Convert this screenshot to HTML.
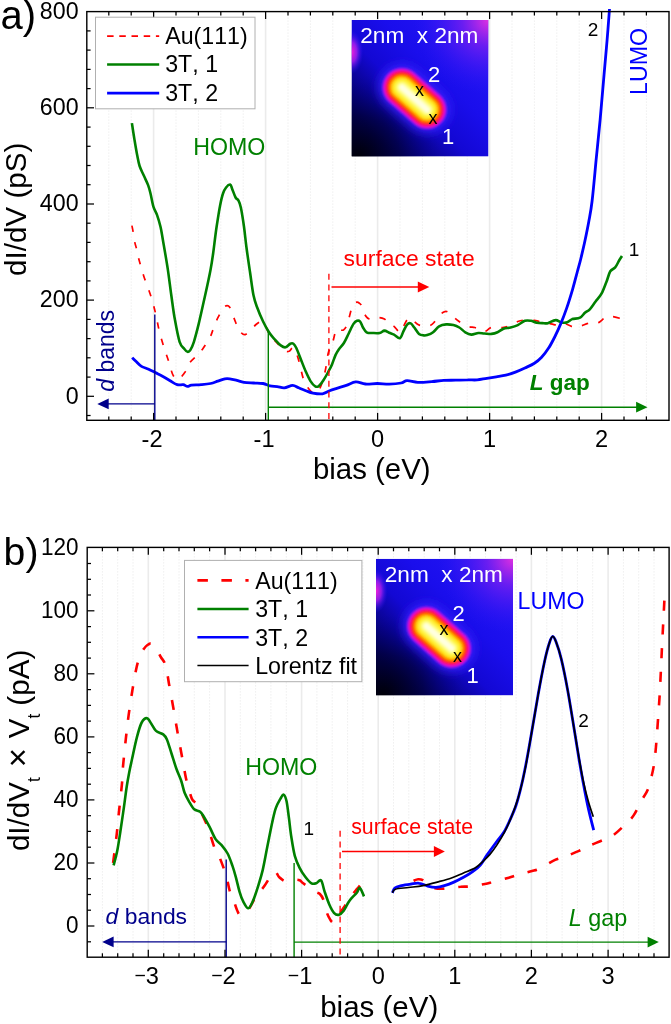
<!DOCTYPE html>
<html lang="en"><head><meta charset="utf-8"><title>dI/dV spectra</title>
<style>html,body{margin:0;padding:0;background:#fff}svg{display:block}</style></head>
<body>
<svg width="671" height="1024" viewBox="0 0 671 1024" font-family='"Liberation Sans", Arial, sans-serif' style="font-kerning:none">
<defs>
<clipPath id="insclip"><rect x="0" y="0" width="137" height="136.6"/></clipPath>
<filter id="blur15" filterUnits="userSpaceOnUse" x="-10" y="-10" width="160" height="160"><feGaussianBlur stdDeviation="1.3"/></filter>
<filter id="blur3" filterUnits="userSpaceOnUse" x="-20" y="-20" width="180" height="180"><feGaussianBlur stdDeviation="5"/></filter>
<linearGradient id="bgdiag" x1="0" y1="1" x2="1" y2="0">
<stop offset="0" stop-color="#000008"/><stop offset="0.15" stop-color="#030148"/><stop offset="0.3" stop-color="#0b0498"/><stop offset="0.43" stop-color="#1308d4"/><stop offset="0.62" stop-color="#1a0eec"/><stop offset="1" stop-color="#2818f8"/>
</linearGradient>
<radialGradient id="bgtr" cx="1" cy="0" r="0.55">
<stop offset="0" stop-color="#e030e0" stop-opacity="1"/><stop offset="0.35" stop-color="#8020f0" stop-opacity="0.75"/><stop offset="1" stop-color="#2a18f8" stop-opacity="0"/>
</radialGradient>
<radialGradient id="bgbl" cx="0.05" cy="1" r="0.6">
<stop offset="0" stop-color="#000008" stop-opacity="1"/><stop offset="0.5" stop-color="#000040" stop-opacity="0.6"/><stop offset="1" stop-color="#0000a0" stop-opacity="0"/>
</radialGradient>
<radialGradient id="bgleft" cx="0" cy="0.5" r="0.5" gradientTransform="translate(0 0.075) scale(0.17 0.32)">
<stop offset="0" stop-color="#f020d8" stop-opacity="1"/><stop offset="0.45" stop-color="#b020f0" stop-opacity="0.8"/><stop offset="1" stop-color="#2a18f8" stop-opacity="0"/>
</radialGradient>
</defs>
<rect width="671" height="1024" fill="#fff"/>
<line x1="108.8" y1="11.6" x2="108.8" y2="420.3" stroke="#e6e6e6" stroke-width="1" stroke-dasharray="1 2"/>
<line x1="131.2" y1="11.6" x2="131.2" y2="420.3" stroke="#e6e6e6" stroke-width="1" stroke-dasharray="1 2"/>
<line x1="153.6" y1="11.6" x2="153.6" y2="420.3" stroke="#ebebeb" stroke-width="1.6"/>
<line x1="176.0" y1="11.6" x2="176.0" y2="420.3" stroke="#e6e6e6" stroke-width="1" stroke-dasharray="1 2"/>
<line x1="198.4" y1="11.6" x2="198.4" y2="420.3" stroke="#e6e6e6" stroke-width="1" stroke-dasharray="1 2"/>
<line x1="220.8" y1="11.6" x2="220.8" y2="420.3" stroke="#e6e6e6" stroke-width="1" stroke-dasharray="1 2"/>
<line x1="243.2" y1="11.6" x2="243.2" y2="420.3" stroke="#e6e6e6" stroke-width="1" stroke-dasharray="1 2"/>
<line x1="265.6" y1="11.6" x2="265.6" y2="420.3" stroke="#ebebeb" stroke-width="1.6"/>
<line x1="288.0" y1="11.6" x2="288.0" y2="420.3" stroke="#e6e6e6" stroke-width="1" stroke-dasharray="1 2"/>
<line x1="310.4" y1="11.6" x2="310.4" y2="420.3" stroke="#e6e6e6" stroke-width="1" stroke-dasharray="1 2"/>
<line x1="332.8" y1="11.6" x2="332.8" y2="420.3" stroke="#e6e6e6" stroke-width="1" stroke-dasharray="1 2"/>
<line x1="355.2" y1="11.6" x2="355.2" y2="420.3" stroke="#e6e6e6" stroke-width="1" stroke-dasharray="1 2"/>
<line x1="377.6" y1="11.6" x2="377.6" y2="420.3" stroke="#ebebeb" stroke-width="1.6"/>
<line x1="400.0" y1="11.6" x2="400.0" y2="420.3" stroke="#e6e6e6" stroke-width="1" stroke-dasharray="1 2"/>
<line x1="422.4" y1="11.6" x2="422.4" y2="420.3" stroke="#e6e6e6" stroke-width="1" stroke-dasharray="1 2"/>
<line x1="444.8" y1="11.6" x2="444.8" y2="420.3" stroke="#e6e6e6" stroke-width="1" stroke-dasharray="1 2"/>
<line x1="467.2" y1="11.6" x2="467.2" y2="420.3" stroke="#e6e6e6" stroke-width="1" stroke-dasharray="1 2"/>
<line x1="489.6" y1="11.6" x2="489.6" y2="420.3" stroke="#ebebeb" stroke-width="1.6"/>
<line x1="512.0" y1="11.6" x2="512.0" y2="420.3" stroke="#e6e6e6" stroke-width="1" stroke-dasharray="1 2"/>
<line x1="534.4" y1="11.6" x2="534.4" y2="420.3" stroke="#e6e6e6" stroke-width="1" stroke-dasharray="1 2"/>
<line x1="556.8" y1="11.6" x2="556.8" y2="420.3" stroke="#e6e6e6" stroke-width="1" stroke-dasharray="1 2"/>
<line x1="579.2" y1="11.6" x2="579.2" y2="420.3" stroke="#e6e6e6" stroke-width="1" stroke-dasharray="1 2"/>
<line x1="601.6" y1="11.6" x2="601.6" y2="420.3" stroke="#ebebeb" stroke-width="1.6"/>
<line x1="624.0" y1="11.6" x2="624.0" y2="420.3" stroke="#e6e6e6" stroke-width="1" stroke-dasharray="1 2"/>
<line x1="646.4" y1="11.6" x2="646.4" y2="420.3" stroke="#e6e6e6" stroke-width="1" stroke-dasharray="1 2"/>
<path d="M131.9,225.6C132.1,226.6 132.6,228.8 133.1,231.6C133.6,234.4 134.2,239.3 134.8,242.3C135.4,245.3 136.1,246.8 136.7,249.5C137.3,252.2 137.4,253.9 138.6,258.3C139.8,262.8 141.7,269.8 143.8,276.2C145.9,282.6 149.0,290.1 151.0,296.5C153.0,302.9 154.4,308.6 155.8,314.4C157.2,320.2 157.9,325.5 159.3,331.1C160.7,336.7 162.5,342.6 164.1,347.8C165.7,353.0 167.5,357.7 168.9,362.1C170.3,366.5 171.3,371.2 172.5,374.0C173.7,376.8 174.8,378.1 176.0,378.8C177.2,379.6 178.7,379.4 180.0,378.5C181.3,377.6 182.7,375.2 184.0,373.5C185.3,371.8 186.9,369.9 188.0,368.0C189.1,366.1 188.5,364.4 190.3,362.0C192.1,359.6 196.5,356.1 198.7,353.7C200.9,351.3 201.6,350.6 203.5,347.8C205.4,345.0 208.6,339.8 210.1,337.0C211.6,334.2 211.5,333.7 212.5,331.1C213.5,328.5 215.0,324.1 216.1,321.5C217.2,318.9 217.9,317.7 219.0,315.6C220.1,313.5 221.4,310.6 222.5,309.0C223.6,307.4 224.4,306.3 225.6,306.0C226.8,305.7 228.2,305.0 229.7,307.2C231.2,309.4 233.1,315.9 234.4,319.1C235.7,322.3 236.2,324.1 237.3,326.3C238.4,328.5 239.7,331.1 241.0,332.5C242.3,333.9 243.5,335.0 245.2,334.6C246.9,334.2 249.3,331.6 251.1,329.9C252.9,328.2 254.4,325.9 256.0,324.5C257.6,323.1 259.3,321.8 260.7,321.5C262.1,321.2 262.8,320.3 264.3,322.7C265.9,325.1 268.2,332.8 270.0,335.8C271.8,338.8 272.4,338.2 274.8,340.6C277.2,343.0 281.9,348.3 284.3,350.1C286.7,351.9 287.7,351.7 289.1,351.3C290.5,350.9 291.5,347.6 292.7,347.8C293.9,348.0 295.0,349.7 296.2,352.5C297.4,355.3 298.6,360.0 299.8,364.4C301.0,368.8 301.8,374.6 303.4,378.8C305.0,383.0 307.3,387.1 309.3,389.5C311.3,391.9 313.5,393.4 315.3,393.1C317.1,392.9 318.6,390.5 320.0,388.0C321.4,385.5 322.5,381.5 323.5,378.0C324.5,374.5 325.2,371.1 326.0,366.8C326.8,362.6 327.3,356.5 328.4,352.5C329.5,348.5 331.3,346.6 332.5,343.0C333.7,339.4 334.7,333.5 335.6,331.1C336.5,328.7 337.2,328.9 338.0,328.7C338.8,328.5 339.4,329.7 340.3,329.9C341.2,330.1 342.5,330.6 343.5,330.0C344.5,329.4 345.4,328.1 346.3,326.3C347.2,324.5 347.7,322.5 348.7,319.1C349.7,315.7 351.3,308.6 352.3,306.0C353.3,303.4 353.8,303.8 354.6,303.2C355.4,302.6 356.2,302.2 357.0,302.2C357.8,302.2 358.6,302.6 359.4,303.2C360.2,303.8 361.0,304.3 361.8,306.0C362.6,307.7 363.2,311.2 364.2,313.2C365.1,315.2 366.3,317.0 367.5,318.0C368.7,319.0 369.7,319.2 371.3,319.1C372.9,319.0 375.1,317.5 377.3,317.5C379.5,317.5 382.4,318.0 384.4,319.1C386.4,320.2 387.6,322.7 389.2,323.9C390.8,325.1 392.2,324.9 394.0,326.3C395.8,327.7 398.3,332.3 399.9,332.3C401.5,332.3 402.3,328.4 403.5,326.3C404.7,324.2 405.9,321.3 407.1,319.9C408.3,318.5 409.5,317.7 410.7,318.0C411.9,318.3 413.0,320.4 414.3,321.5C415.6,322.6 417.1,324.1 418.5,324.8C419.9,325.5 420.8,325.6 422.6,325.8C424.4,326.0 427.6,326.4 429.5,325.8C431.4,325.2 432.6,324.0 434.0,322.5C435.4,321.0 436.3,318.6 437.9,316.8C439.5,315.1 442.2,312.8 443.8,312.0C445.4,311.2 445.9,311.0 447.5,311.8C449.1,312.6 451.6,315.3 453.4,316.8C455.2,318.3 455.7,319.2 458.1,320.8C460.5,322.4 464.9,325.2 467.7,326.3C470.5,327.4 472.8,326.9 474.8,327.5C476.9,328.1 478.2,329.2 480.0,329.8C481.8,330.4 483.7,331.5 485.6,331.1C487.5,330.7 488.7,328.1 491.5,327.5C494.3,326.9 499.5,327.7 502.3,327.5C505.1,327.3 505.6,327.3 508.2,326.3C510.8,325.3 515.0,322.5 517.8,321.5C520.6,320.5 522.1,320.5 524.9,320.3C527.7,320.1 532.0,320.1 534.4,320.3C536.8,320.5 536.4,320.9 539.2,321.5C542.0,322.1 548.1,323.3 551.1,323.9C554.1,324.5 555.5,325.1 557.1,325.1C558.8,325.2 559.6,324.4 561.0,324.2C562.4,324.0 563.7,323.5 565.4,323.9C567.1,324.2 569.6,325.9 571.4,326.3C573.2,326.8 574.4,326.7 576.0,326.6C577.6,326.5 579.0,326.4 581.0,325.9C583.0,325.4 585.8,323.8 587.8,323.4C589.8,322.9 591.2,323.3 593.0,323.2C594.8,323.1 596.7,323.5 598.6,322.6C600.5,321.8 602.7,319.1 604.4,318.1C606.1,317.1 607.4,316.8 609.0,316.6C610.6,316.4 612.2,316.5 614.2,316.8C616.2,317.1 619.9,318.4 621.0,318.7" fill="none" stroke="#ff0000" stroke-width="1.7" stroke-dasharray="6.5 10.2"/>
<path d="M131.9,123.1C132.3,125.7 133.4,133.2 134.3,138.6C135.2,144.0 136.3,150.7 137.2,155.3C138.1,159.9 138.5,162.6 139.6,166.0C140.7,169.4 142.4,172.4 143.8,175.6C145.2,178.8 147.0,182.1 148.1,185.1C149.2,188.1 149.6,189.9 150.5,193.5C151.4,197.1 152.3,203.0 153.4,206.6C154.5,210.2 155.8,211.5 157.0,214.9C158.2,218.3 159.5,222.6 160.5,226.8C161.5,231.0 161.7,233.0 162.9,240.0C164.1,247.0 166.3,259.4 167.7,268.6C169.1,277.8 170.1,286.9 171.3,295.3C172.5,303.7 173.4,311.4 174.8,319.1C176.2,326.9 178.0,336.8 179.6,341.8C181.2,346.8 183.1,347.3 184.4,349.0C185.7,350.7 186.5,351.6 187.5,351.8C188.5,352.0 189.2,351.8 190.3,350.1C191.4,348.4 192.5,346.2 193.9,341.8C195.3,337.4 196.9,331.2 198.7,323.9C200.5,316.5 202.6,306.6 204.6,297.7C206.6,288.8 209.0,277.9 210.4,270.5C211.8,263.1 212.2,260.3 213.2,253.0C214.2,245.7 215.4,234.7 216.6,226.8C217.8,218.9 219.0,211.0 220.1,205.4C221.2,199.8 222.0,196.5 223.0,193.5C224.0,190.5 224.9,189.0 226.1,187.5C227.3,186.0 229.2,184.4 230.2,184.6C231.2,184.8 231.2,186.5 232.1,188.7C233.0,190.8 234.5,195.5 235.6,197.5C236.7,199.5 237.6,198.9 238.5,200.6C239.4,202.3 240.0,203.4 240.9,207.8C241.8,212.2 243.1,220.3 244.0,226.8C244.9,233.3 245.4,239.5 246.4,247.0C247.4,254.5 248.8,263.9 250.0,272.0C251.2,280.1 252.3,289.4 253.5,295.3C254.7,301.2 255.5,302.8 257.1,307.2C258.7,311.6 261.1,317.3 263.1,321.5C265.1,325.7 267.1,329.3 269.0,332.3C270.9,335.3 272.9,337.2 274.8,339.4C276.8,341.6 278.9,344.1 280.7,345.4C282.5,346.7 283.9,347.6 285.5,347.3C287.1,347.0 289.0,344.3 290.3,343.7C291.6,343.1 292.4,343.0 293.4,343.7C294.4,344.4 294.9,345.1 296.2,347.8C297.5,350.5 299.4,355.7 301.0,359.7C302.6,363.7 304.2,368.0 305.8,371.6C307.4,375.2 308.9,378.6 310.5,381.1C312.1,383.6 313.9,385.6 315.3,386.4C316.7,387.2 317.5,387.0 318.9,385.9C320.3,384.8 322.0,382.4 323.6,380.0C325.2,377.6 327.0,374.2 328.4,371.6C329.8,369.0 330.8,367.2 332.0,364.4C333.2,361.6 334.4,357.5 335.6,354.9C336.8,352.3 337.7,351.0 339.1,349.0C340.5,347.0 342.3,345.6 343.9,343.0C345.5,340.4 347.1,336.7 348.7,333.5C350.3,330.3 352.1,326.0 353.5,323.9C354.9,321.8 355.9,321.2 357.0,320.8C358.1,320.4 359.1,320.4 360.1,321.5C361.1,322.6 361.9,325.7 363.0,327.5C364.1,329.3 365.0,331.4 366.6,332.3C368.2,333.2 370.3,332.9 372.5,333.0C374.7,333.1 377.7,333.4 379.7,333.0C381.7,332.6 382.8,330.7 384.4,330.6C386.0,330.6 387.6,332.0 389.2,332.7C390.8,333.4 392.2,333.7 394.0,334.6C395.8,335.5 398.3,338.8 399.9,338.2C401.5,337.6 402.3,333.4 403.5,331.1C404.7,328.8 405.9,325.9 407.1,324.6C408.3,323.3 409.5,322.9 410.7,323.4C411.9,323.9 412.9,325.8 414.3,327.5C415.7,329.2 417.4,332.6 419.0,333.9C420.6,335.2 422.4,335.2 423.8,335.4C425.2,335.6 425.6,335.6 427.2,335.1C428.8,334.6 431.1,333.8 433.1,332.3C435.1,330.8 436.9,327.6 439.1,326.3C441.3,325.0 443.8,324.6 446.2,324.4C448.6,324.2 451.2,324.6 453.4,325.1C455.6,325.6 457.3,326.3 459.3,327.5C461.3,328.7 463.3,331.1 465.3,332.3C467.3,333.5 469.1,334.5 471.3,334.6C473.5,334.7 476.2,333.2 478.4,333.0C480.6,332.8 482.2,333.4 484.4,333.5C486.6,333.6 489.3,334.1 491.5,333.9C493.7,333.7 495.5,333.2 497.5,332.3C499.5,331.4 501.3,329.5 503.5,328.7C505.7,327.9 508.2,328.1 510.6,327.5C513.0,326.9 515.4,326.2 517.8,325.1C520.2,324.0 522.7,321.5 524.9,320.8C527.1,320.1 528.9,320.5 530.9,320.8C532.9,321.1 534.6,322.3 536.8,322.7C539.0,323.1 542.2,323.1 544.0,323.2C545.8,323.3 545.9,323.7 547.8,323.2C549.7,322.7 553.3,320.2 555.6,320.1C557.9,320.0 559.5,322.0 561.5,322.4C563.5,322.8 565.5,322.8 567.3,322.2C569.1,321.6 570.1,319.9 572.2,319.1C574.3,318.4 577.9,318.8 580.0,317.7C582.1,316.6 583.3,314.2 584.9,312.8C586.5,311.4 588.0,311.2 589.8,309.3C591.6,307.4 593.6,304.1 595.6,301.5C597.6,298.9 599.7,296.9 601.5,293.7C603.3,290.4 604.9,285.7 606.4,282.0C607.9,278.3 608.8,273.7 610.3,271.3C611.8,268.9 613.7,269.2 615.2,267.4C616.7,265.6 618.0,262.4 619.1,260.5C620.2,258.6 621.5,256.8 622.0,256.0" fill="none" stroke="#008000" stroke-width="2.6" stroke-linejoin="round"/>
<path d="M132.2,357.6C132.9,358.4 135.1,360.6 136.7,362.1C138.2,363.6 139.5,365.2 141.5,366.4C143.5,367.6 146.2,368.1 148.6,369.2C151.0,370.3 153.4,371.6 155.8,372.8C158.2,374.0 160.5,375.1 162.9,376.4C165.3,377.7 167.7,379.3 170.1,380.7C172.5,382.1 175.0,384.0 177.2,384.7C179.4,385.4 181.5,384.4 183.2,384.7C184.9,385.0 186.1,386.3 187.5,386.4C188.9,386.5 189.2,385.5 191.5,385.2C193.8,384.9 197.9,385.0 201.1,384.7C204.3,384.4 207.8,384.1 210.6,383.5C213.4,382.9 215.4,381.9 217.8,381.1C220.2,380.3 222.9,379.2 224.9,378.8C226.9,378.4 227.7,378.5 229.7,378.8C231.7,379.1 234.4,379.8 236.8,380.4C239.2,381.0 241.2,381.9 244.0,382.3C246.8,382.7 250.3,382.8 253.5,383.0C256.7,383.2 260.4,383.0 263.1,383.5C265.9,384.0 267.6,385.4 270.0,385.9C272.4,386.4 274.8,386.3 277.2,386.6C279.6,386.9 281.7,388.0 284.3,387.8C286.9,387.6 290.3,385.4 292.7,385.4C295.1,385.4 296.4,386.9 298.6,387.8C300.8,388.7 303.4,389.8 305.8,390.7C308.2,391.6 310.1,392.6 312.9,393.1C315.7,393.6 319.7,394.2 322.5,393.8C325.3,393.4 327.2,391.6 329.6,390.7C332.0,389.8 334.0,389.2 336.8,388.3C339.6,387.4 343.1,386.5 346.3,385.4C349.5,384.3 352.6,382.1 355.8,381.9C359.0,381.7 361.8,383.7 365.4,384.0C369.0,384.3 373.3,383.5 377.3,383.5C381.3,383.5 385.2,384.3 389.2,384.2C393.2,384.1 398.1,383.6 401.1,383.0C404.1,382.4 404.3,380.8 407.1,380.7C409.9,380.6 413.7,382.1 417.8,382.3C421.9,382.5 427.6,381.9 431.9,381.6C436.2,381.3 439.8,380.6 443.8,380.4C447.8,380.2 451.8,380.3 455.8,380.2C459.8,380.1 464.1,379.9 467.7,379.9C471.3,379.8 474.0,380.2 477.2,379.9C480.4,379.6 483.6,378.8 486.8,378.3C490.0,377.8 493.1,377.3 496.3,376.8C499.5,376.3 502.6,376.0 505.8,375.2C509.0,374.4 512.2,373.3 515.4,372.1C518.6,370.9 521.7,369.5 524.9,368.0C528.1,366.5 531.6,365.1 534.4,363.3C537.2,361.5 539.2,359.9 541.6,357.3C544.0,354.7 546.6,351.2 548.8,347.8C551.0,344.4 552.7,341.0 554.7,337.0C556.7,333.0 558.7,328.7 560.7,323.9C562.7,319.1 564.6,314.2 566.6,308.4C568.6,302.6 570.8,295.4 572.6,289.3C574.4,283.2 576.0,276.7 577.4,271.5C578.8,266.3 579.8,263.1 581.0,258.0C582.2,252.9 583.6,247.1 584.9,241.0C586.2,234.9 587.6,228.2 588.8,221.5C590.0,214.8 590.9,211.2 592.1,201.0C593.3,190.8 594.8,173.7 596.1,160.2C597.4,146.7 598.8,134.4 600.1,120.1C601.4,105.8 602.9,87.4 604.1,74.1C605.3,60.7 606.2,50.9 607.1,40.0C608.0,29.1 609.1,14.2 609.5,9.0" fill="none" stroke="#0000ff" stroke-width="2.8" stroke-linejoin="round"/>
<line x1="154.8" y1="314.6" x2="154.8" y2="420.3" stroke="#00008b" stroke-width="1.4"/>
<line x1="154.8" y1="403.9" x2="107" y2="403.9" stroke="#00008b" stroke-width="1.4"/>
<polygon points="97.3,403.9 108.7,398.5 108.7,409.3" fill="#00008b"/>
<line x1="268.3" y1="332" x2="268.3" y2="420.3" stroke="#008000" stroke-width="1.4"/>
<line x1="268.3" y1="407.2" x2="638" y2="407.2" stroke="#008000" stroke-width="1.4"/>
<polygon points="647.5,407.2 636.1,401.8 636.1,412.6" fill="#008000"/>
<line x1="328.9" y1="273.8" x2="328.9" y2="420.3" stroke="#ff0000" stroke-width="1.3" stroke-dasharray="6 4.7"/>
<line x1="331.5" y1="287" x2="419" y2="287" stroke="#ff0000" stroke-width="1.4"/>
<polygon points="429.3,287 417.8,281.6 417.8,292.4" fill="#ff0000"/>
<line x1="108.8" y1="420.3" x2="108.8" y2="416.4" stroke="#000" stroke-width="1.25"/>
<line x1="108.8" y1="11.6" x2="108.8" y2="15.5" stroke="#000" stroke-width="1.25"/>
<line x1="131.2" y1="420.3" x2="131.2" y2="416.4" stroke="#000" stroke-width="1.25"/>
<line x1="131.2" y1="11.6" x2="131.2" y2="15.5" stroke="#000" stroke-width="1.25"/>
<line x1="153.6" y1="420.3" x2="153.6" y2="412.9" stroke="#000" stroke-width="1.25"/>
<line x1="153.6" y1="11.6" x2="153.6" y2="19.0" stroke="#000" stroke-width="1.25"/>
<line x1="176.0" y1="420.3" x2="176.0" y2="416.4" stroke="#000" stroke-width="1.25"/>
<line x1="176.0" y1="11.6" x2="176.0" y2="15.5" stroke="#000" stroke-width="1.25"/>
<line x1="198.4" y1="420.3" x2="198.4" y2="416.4" stroke="#000" stroke-width="1.25"/>
<line x1="198.4" y1="11.6" x2="198.4" y2="15.5" stroke="#000" stroke-width="1.25"/>
<line x1="220.8" y1="420.3" x2="220.8" y2="416.4" stroke="#000" stroke-width="1.25"/>
<line x1="220.8" y1="11.6" x2="220.8" y2="15.5" stroke="#000" stroke-width="1.25"/>
<line x1="243.2" y1="420.3" x2="243.2" y2="416.4" stroke="#000" stroke-width="1.25"/>
<line x1="243.2" y1="11.6" x2="243.2" y2="15.5" stroke="#000" stroke-width="1.25"/>
<line x1="265.6" y1="420.3" x2="265.6" y2="412.9" stroke="#000" stroke-width="1.25"/>
<line x1="265.6" y1="11.6" x2="265.6" y2="19.0" stroke="#000" stroke-width="1.25"/>
<line x1="288.0" y1="420.3" x2="288.0" y2="416.4" stroke="#000" stroke-width="1.25"/>
<line x1="288.0" y1="11.6" x2="288.0" y2="15.5" stroke="#000" stroke-width="1.25"/>
<line x1="310.4" y1="420.3" x2="310.4" y2="416.4" stroke="#000" stroke-width="1.25"/>
<line x1="310.4" y1="11.6" x2="310.4" y2="15.5" stroke="#000" stroke-width="1.25"/>
<line x1="332.8" y1="420.3" x2="332.8" y2="416.4" stroke="#000" stroke-width="1.25"/>
<line x1="332.8" y1="11.6" x2="332.8" y2="15.5" stroke="#000" stroke-width="1.25"/>
<line x1="355.2" y1="420.3" x2="355.2" y2="416.4" stroke="#000" stroke-width="1.25"/>
<line x1="355.2" y1="11.6" x2="355.2" y2="15.5" stroke="#000" stroke-width="1.25"/>
<line x1="377.6" y1="420.3" x2="377.6" y2="412.9" stroke="#000" stroke-width="1.25"/>
<line x1="377.6" y1="11.6" x2="377.6" y2="19.0" stroke="#000" stroke-width="1.25"/>
<line x1="400.0" y1="420.3" x2="400.0" y2="416.4" stroke="#000" stroke-width="1.25"/>
<line x1="400.0" y1="11.6" x2="400.0" y2="15.5" stroke="#000" stroke-width="1.25"/>
<line x1="422.4" y1="420.3" x2="422.4" y2="416.4" stroke="#000" stroke-width="1.25"/>
<line x1="422.4" y1="11.6" x2="422.4" y2="15.5" stroke="#000" stroke-width="1.25"/>
<line x1="444.8" y1="420.3" x2="444.8" y2="416.4" stroke="#000" stroke-width="1.25"/>
<line x1="444.8" y1="11.6" x2="444.8" y2="15.5" stroke="#000" stroke-width="1.25"/>
<line x1="467.2" y1="420.3" x2="467.2" y2="416.4" stroke="#000" stroke-width="1.25"/>
<line x1="467.2" y1="11.6" x2="467.2" y2="15.5" stroke="#000" stroke-width="1.25"/>
<line x1="489.6" y1="420.3" x2="489.6" y2="412.9" stroke="#000" stroke-width="1.25"/>
<line x1="489.6" y1="11.6" x2="489.6" y2="19.0" stroke="#000" stroke-width="1.25"/>
<line x1="512.0" y1="420.3" x2="512.0" y2="416.4" stroke="#000" stroke-width="1.25"/>
<line x1="512.0" y1="11.6" x2="512.0" y2="15.5" stroke="#000" stroke-width="1.25"/>
<line x1="534.4" y1="420.3" x2="534.4" y2="416.4" stroke="#000" stroke-width="1.25"/>
<line x1="534.4" y1="11.6" x2="534.4" y2="15.5" stroke="#000" stroke-width="1.25"/>
<line x1="556.8" y1="420.3" x2="556.8" y2="416.4" stroke="#000" stroke-width="1.25"/>
<line x1="556.8" y1="11.6" x2="556.8" y2="15.5" stroke="#000" stroke-width="1.25"/>
<line x1="579.2" y1="420.3" x2="579.2" y2="416.4" stroke="#000" stroke-width="1.25"/>
<line x1="579.2" y1="11.6" x2="579.2" y2="15.5" stroke="#000" stroke-width="1.25"/>
<line x1="601.6" y1="420.3" x2="601.6" y2="412.9" stroke="#000" stroke-width="1.25"/>
<line x1="601.6" y1="11.6" x2="601.6" y2="19.0" stroke="#000" stroke-width="1.25"/>
<line x1="624.0" y1="420.3" x2="624.0" y2="416.4" stroke="#000" stroke-width="1.25"/>
<line x1="624.0" y1="11.6" x2="624.0" y2="15.5" stroke="#000" stroke-width="1.25"/>
<line x1="646.4" y1="420.3" x2="646.4" y2="416.4" stroke="#000" stroke-width="1.25"/>
<line x1="646.4" y1="11.6" x2="646.4" y2="15.5" stroke="#000" stroke-width="1.25"/>
<line x1="86.8" y1="415.5" x2="90.6" y2="415.5" stroke="#000" stroke-width="1.25"/>
<line x1="86.8" y1="396.3" x2="94.0" y2="396.3" stroke="#000" stroke-width="1.25"/>
<line x1="86.8" y1="377.1" x2="90.6" y2="377.1" stroke="#000" stroke-width="1.25"/>
<line x1="86.8" y1="357.8" x2="90.6" y2="357.8" stroke="#000" stroke-width="1.25"/>
<line x1="86.8" y1="338.6" x2="90.6" y2="338.6" stroke="#000" stroke-width="1.25"/>
<line x1="86.8" y1="319.4" x2="90.6" y2="319.4" stroke="#000" stroke-width="1.25"/>
<line x1="86.8" y1="300.1" x2="94.0" y2="300.1" stroke="#000" stroke-width="1.25"/>
<line x1="86.8" y1="280.9" x2="90.6" y2="280.9" stroke="#000" stroke-width="1.25"/>
<line x1="86.8" y1="261.7" x2="90.6" y2="261.7" stroke="#000" stroke-width="1.25"/>
<line x1="86.8" y1="242.4" x2="90.6" y2="242.4" stroke="#000" stroke-width="1.25"/>
<line x1="86.8" y1="223.2" x2="90.6" y2="223.2" stroke="#000" stroke-width="1.25"/>
<line x1="86.8" y1="204.0" x2="94.0" y2="204.0" stroke="#000" stroke-width="1.25"/>
<line x1="86.8" y1="184.7" x2="90.6" y2="184.7" stroke="#000" stroke-width="1.25"/>
<line x1="86.8" y1="165.5" x2="90.6" y2="165.5" stroke="#000" stroke-width="1.25"/>
<line x1="86.8" y1="146.3" x2="90.6" y2="146.3" stroke="#000" stroke-width="1.25"/>
<line x1="86.8" y1="127.1" x2="90.6" y2="127.1" stroke="#000" stroke-width="1.25"/>
<line x1="86.8" y1="107.8" x2="94.0" y2="107.8" stroke="#000" stroke-width="1.25"/>
<line x1="86.8" y1="88.6" x2="90.6" y2="88.6" stroke="#000" stroke-width="1.25"/>
<line x1="86.8" y1="69.4" x2="90.6" y2="69.4" stroke="#000" stroke-width="1.25"/>
<line x1="86.8" y1="50.1" x2="90.6" y2="50.1" stroke="#000" stroke-width="1.25"/>
<line x1="86.8" y1="30.9" x2="90.6" y2="30.9" stroke="#000" stroke-width="1.25"/>
<rect x="86.8" y="11.6" width="582.2" height="408.7" fill="none" stroke="#000" stroke-width="1.4"/>
<rect x="95.5" y="17.2" width="159.5" height="91.6" fill="#fff" stroke="#b0b0b0" stroke-width="1"/>
<line x1="107.1" y1="36.1" x2="159.2" y2="36.1" stroke="#ff0000" stroke-width="1.7" stroke-dasharray="6.5 5.7"/>
<line x1="107.1" y1="64.5" x2="159.2" y2="64.5" stroke="#008000" stroke-width="2.6"/>
<line x1="107.1" y1="93.1" x2="159.2" y2="93.1" stroke="#0000ff" stroke-width="2.6"/>
<text x="165.2" y="44.2" font-size="23.2" fill="#000" text-anchor="start" >Au(111)</text>
<text x="165.2" y="72.4" font-size="23.2" fill="#000" text-anchor="start" >3T, 1</text>
<text x="165.2" y="100.6" font-size="23.2" fill="#000" text-anchor="start" >3T, 2</text>
<text transform="translate(78.6,18.9) scale(0.985,1)" font-size="23.6" fill="#000" text-anchor="end" >800</text>
<text transform="translate(78.6,115.0) scale(0.985,1)" font-size="23.6" fill="#000" text-anchor="end" >600</text>
<text transform="translate(78.6,211.2) scale(0.985,1)" font-size="23.6" fill="#000" text-anchor="end" >400</text>
<text transform="translate(78.6,307.3) scale(0.985,1)" font-size="23.6" fill="#000" text-anchor="end" >200</text>
<text transform="translate(78.6,403.5) scale(0.985,1)" font-size="23.6" fill="#000" text-anchor="end" >0</text>
<text x="152.1" y="447.3" font-size="23.6" fill="#000" text-anchor="middle" >-2</text>
<text x="264.1" y="447.3" font-size="23.6" fill="#000" text-anchor="middle" >-1</text>
<text x="377.6" y="447.3" font-size="23.6" fill="#000" text-anchor="middle" >0</text>
<text x="489.6" y="447.3" font-size="23.6" fill="#000" text-anchor="middle" >1</text>
<text x="601.6" y="447.3" font-size="23.6" fill="#000" text-anchor="middle" >2</text>
<text x="371.8" y="479.4" font-size="29.4" fill="#000" text-anchor="middle" >bias (eV)</text>
<text transform="translate(25.7,209.3) rotate(-90)" font-size="29.6" text-anchor="middle">dI/dV (pS)</text>
<text x="0.5" y="28.8" font-size="40" fill="#000" text-anchor="start" >a)</text>
<text x="193.2" y="154.6" font-size="23.2" fill="#008000" text-anchor="start" >HOMO</text>
<text x="343.6" y="265.5" font-size="22.9" fill="#ff0000" text-anchor="start" >surface state</text>
<text x="529.8" y="390.0" font-size="22.5" fill="#008000" font-weight="bold"><tspan font-style="italic">L</tspan> gap</text>
<text transform="translate(646.6,95) rotate(-90)" font-size="23.2" fill="#0000ff">LUMO</text>
<text transform="translate(113.6,391.8) rotate(-90)" font-size="23" fill="#00008b"><tspan font-style="italic">d</tspan> bands</text>
<text x="593.0" y="35.6" font-size="19" fill="#000" text-anchor="middle" >2</text>
<text x="634.0" y="256.0" font-size="19" fill="#000" text-anchor="middle" >1</text>
<g transform="translate(351.5,20.0)">
<g clip-path="url(#insclip)">
<rect x="0" y="0" width="137" height="136.6" fill="url(#bgdiag)"/>
<rect x="0" y="0" width="137" height="136.6" fill="url(#bgtr)"/>
<rect x="0" y="0" width="137" height="136.6" fill="url(#bgbl)"/>
<rect x="0" y="0" width="137" height="136.6" fill="url(#bgleft)"/>
<g filter="url(#blur3)">
<line x1="50.4" y1="67.4" x2="75.6" y2="89.6" stroke="#3820ff" stroke-width="48" stroke-linecap="round" opacity="0.8"/>
</g>
<g filter="url(#blur15)">
<line x1="50.4" y1="67.4" x2="75.6" y2="89.6" stroke="#8018f0" stroke-width="40" stroke-linecap="round"/>
<line x1="50.4" y1="67.4" x2="75.6" y2="89.6" stroke="#e010d0" stroke-width="37" stroke-linecap="round"/>
<line x1="50.4" y1="67.4" x2="75.6" y2="89.6" stroke="#ff1068" stroke-width="33.5" stroke-linecap="round"/>
<line x1="50.4" y1="67.4" x2="75.6" y2="89.6" stroke="#ff2000" stroke-width="30" stroke-linecap="round"/>
<line x1="50.4" y1="67.4" x2="75.6" y2="89.6" stroke="#ff7000" stroke-width="26.5" stroke-linecap="round"/>
<line x1="50.4" y1="67.4" x2="75.6" y2="89.6" stroke="#ffb400" stroke-width="23" stroke-linecap="round"/>
<line x1="50.4" y1="67.4" x2="75.6" y2="89.6" stroke="#ffe820" stroke-width="19.5" stroke-linecap="round"/>
<line x1="50.4" y1="67.4" x2="75.6" y2="89.6" stroke="#fff850" stroke-width="14.5" stroke-linecap="round"/>
<line x1="50.4" y1="67.4" x2="75.6" y2="89.6" stroke="#ffffa0" stroke-width="9.5" stroke-linecap="round"/>
<line x1="50.4" y1="67.4" x2="75.6" y2="89.6" stroke="#ffffe0" stroke-width="5" stroke-linecap="round"/>
</g>
</g>
<text x="8.8" y="23.2" font-size="22.6" fill="#fff" text-anchor="start" >2nm&#160; x 2nm</text>
<text x="82.6" y="61.9" font-size="22" fill="#fff" text-anchor="middle" >2</text>
<text x="96.5" y="124.0" font-size="22" fill="#fff" text-anchor="middle" >1</text>
<text x="68.0" y="76.0" font-size="18" fill="#000" text-anchor="middle" >x</text>
<text x="81.5" y="103.5" font-size="18" fill="#000" text-anchor="middle" >x</text>
</g>
<line x1="102.4" y1="547.4" x2="102.4" y2="957.2" stroke="#e6e6e6" stroke-width="1" stroke-dasharray="1 2"/>
<line x1="117.7" y1="547.4" x2="117.7" y2="957.2" stroke="#e6e6e6" stroke-width="1" stroke-dasharray="1 2"/>
<line x1="133.0" y1="547.4" x2="133.0" y2="957.2" stroke="#e6e6e6" stroke-width="1" stroke-dasharray="1 2"/>
<line x1="148.3" y1="547.4" x2="148.3" y2="957.2" stroke="#ebebeb" stroke-width="1.6"/>
<line x1="163.7" y1="547.4" x2="163.7" y2="957.2" stroke="#e6e6e6" stroke-width="1" stroke-dasharray="1 2"/>
<line x1="179.0" y1="547.4" x2="179.0" y2="957.2" stroke="#e6e6e6" stroke-width="1" stroke-dasharray="1 2"/>
<line x1="194.3" y1="547.4" x2="194.3" y2="957.2" stroke="#e6e6e6" stroke-width="1" stroke-dasharray="1 2"/>
<line x1="209.6" y1="547.4" x2="209.6" y2="957.2" stroke="#e6e6e6" stroke-width="1" stroke-dasharray="1 2"/>
<line x1="225.0" y1="547.4" x2="225.0" y2="957.2" stroke="#ebebeb" stroke-width="1.6"/>
<line x1="240.3" y1="547.4" x2="240.3" y2="957.2" stroke="#e6e6e6" stroke-width="1" stroke-dasharray="1 2"/>
<line x1="255.6" y1="547.4" x2="255.6" y2="957.2" stroke="#e6e6e6" stroke-width="1" stroke-dasharray="1 2"/>
<line x1="270.9" y1="547.4" x2="270.9" y2="957.2" stroke="#e6e6e6" stroke-width="1" stroke-dasharray="1 2"/>
<line x1="286.3" y1="547.4" x2="286.3" y2="957.2" stroke="#e6e6e6" stroke-width="1" stroke-dasharray="1 2"/>
<line x1="301.6" y1="547.4" x2="301.6" y2="957.2" stroke="#ebebeb" stroke-width="1.6"/>
<line x1="316.9" y1="547.4" x2="316.9" y2="957.2" stroke="#e6e6e6" stroke-width="1" stroke-dasharray="1 2"/>
<line x1="332.2" y1="547.4" x2="332.2" y2="957.2" stroke="#e6e6e6" stroke-width="1" stroke-dasharray="1 2"/>
<line x1="347.6" y1="547.4" x2="347.6" y2="957.2" stroke="#e6e6e6" stroke-width="1" stroke-dasharray="1 2"/>
<line x1="362.9" y1="547.4" x2="362.9" y2="957.2" stroke="#e6e6e6" stroke-width="1" stroke-dasharray="1 2"/>
<line x1="378.2" y1="547.4" x2="378.2" y2="957.2" stroke="#ebebeb" stroke-width="1.6"/>
<line x1="393.5" y1="547.4" x2="393.5" y2="957.2" stroke="#e6e6e6" stroke-width="1" stroke-dasharray="1 2"/>
<line x1="408.8" y1="547.4" x2="408.8" y2="957.2" stroke="#e6e6e6" stroke-width="1" stroke-dasharray="1 2"/>
<line x1="424.2" y1="547.4" x2="424.2" y2="957.2" stroke="#e6e6e6" stroke-width="1" stroke-dasharray="1 2"/>
<line x1="439.5" y1="547.4" x2="439.5" y2="957.2" stroke="#e6e6e6" stroke-width="1" stroke-dasharray="1 2"/>
<line x1="454.8" y1="547.4" x2="454.8" y2="957.2" stroke="#ebebeb" stroke-width="1.6"/>
<line x1="470.1" y1="547.4" x2="470.1" y2="957.2" stroke="#e6e6e6" stroke-width="1" stroke-dasharray="1 2"/>
<line x1="485.5" y1="547.4" x2="485.5" y2="957.2" stroke="#e6e6e6" stroke-width="1" stroke-dasharray="1 2"/>
<line x1="500.8" y1="547.4" x2="500.8" y2="957.2" stroke="#e6e6e6" stroke-width="1" stroke-dasharray="1 2"/>
<line x1="516.1" y1="547.4" x2="516.1" y2="957.2" stroke="#e6e6e6" stroke-width="1" stroke-dasharray="1 2"/>
<line x1="531.4" y1="547.4" x2="531.4" y2="957.2" stroke="#ebebeb" stroke-width="1.6"/>
<line x1="546.8" y1="547.4" x2="546.8" y2="957.2" stroke="#e6e6e6" stroke-width="1" stroke-dasharray="1 2"/>
<line x1="562.1" y1="547.4" x2="562.1" y2="957.2" stroke="#e6e6e6" stroke-width="1" stroke-dasharray="1 2"/>
<line x1="577.4" y1="547.4" x2="577.4" y2="957.2" stroke="#e6e6e6" stroke-width="1" stroke-dasharray="1 2"/>
<line x1="592.7" y1="547.4" x2="592.7" y2="957.2" stroke="#e6e6e6" stroke-width="1" stroke-dasharray="1 2"/>
<line x1="608.1" y1="547.4" x2="608.1" y2="957.2" stroke="#ebebeb" stroke-width="1.6"/>
<line x1="623.4" y1="547.4" x2="623.4" y2="957.2" stroke="#e6e6e6" stroke-width="1" stroke-dasharray="1 2"/>
<line x1="638.7" y1="547.4" x2="638.7" y2="957.2" stroke="#e6e6e6" stroke-width="1" stroke-dasharray="1 2"/>
<line x1="654.0" y1="547.4" x2="654.0" y2="957.2" stroke="#e6e6e6" stroke-width="1" stroke-dasharray="1 2"/>
<path d="M113.1,863.0C113.7,858.2 115.7,843.1 116.7,834.4C117.7,825.6 118.2,818.9 119.1,810.5C120.0,802.1 121.2,791.8 121.9,784.3C122.6,776.8 122.4,772.9 123.1,765.4C123.8,757.9 124.9,747.5 125.8,739.2C126.7,730.9 127.5,723.4 128.6,715.4C129.7,707.4 130.9,699.5 132.2,691.5C133.5,683.5 135.2,673.6 136.5,667.7C137.8,661.8 138.7,659.2 140.0,656.0C141.3,652.8 142.8,650.4 144.1,648.6C145.3,646.8 146.3,645.8 147.5,645.0C148.7,644.2 149.9,643.2 151.3,643.8C152.7,644.4 154.4,646.3 156.0,648.5C157.6,650.7 159.2,654.2 160.8,657.0C162.4,659.8 164.2,660.7 165.6,665.3C167.0,669.9 167.8,677.2 169.1,684.4C170.4,691.5 172.0,700.2 173.4,708.2C174.8,716.2 176.0,723.8 177.5,732.1C179.0,740.5 180.9,750.8 182.3,758.3C183.7,765.8 184.9,773.2 185.8,777.4C186.7,781.6 186.5,780.0 187.5,783.5C188.5,787.0 190.1,794.9 191.8,798.6C193.5,802.3 195.2,801.2 197.8,805.8C200.4,810.4 204.5,819.0 207.3,826.0C210.1,833.0 212.6,842.9 214.4,847.5C216.2,852.1 216.4,849.9 218.0,853.5C219.6,857.1 222.6,865.2 224.0,869.0C225.4,872.8 225.4,872.3 226.4,876.1C227.4,879.9 228.7,887.6 229.9,891.6C231.1,895.6 232.3,896.8 233.5,899.9C234.7,903.0 235.8,907.4 237.0,910.0C238.2,912.6 238.9,915.3 240.7,915.4C242.5,915.5 245.1,914.1 247.8,910.7C250.5,907.3 254.0,899.2 256.7,895.2C259.4,891.2 261.2,890.4 263.8,886.8C266.4,883.2 270.2,876.2 272.2,873.7C274.2,871.2 274.6,871.4 275.8,872.0C277.0,872.6 277.6,875.7 279.3,877.3C281.0,878.9 283.6,881.1 286.0,881.5C288.4,881.9 291.3,879.9 293.6,879.7C295.9,879.5 298.0,879.6 299.6,880.2C301.2,880.8 300.6,881.4 303.2,883.3C305.8,885.2 312.3,889.8 315.1,891.6C317.9,893.4 318.5,892.6 319.9,894.0C321.3,895.4 322.3,896.8 323.5,900.0C324.7,903.2 325.8,909.7 327.0,913.1C328.2,916.5 329.6,918.6 330.6,920.2C331.6,921.8 332.1,922.4 333.0,922.6C333.9,922.8 334.8,923.1 336.0,921.5C337.2,919.9 338.6,915.7 340.1,913.1C341.6,910.5 343.1,908.7 344.9,905.9C346.7,903.1 349.0,899.3 351.0,896.5C353.0,893.7 355.3,891.0 356.8,889.2C358.3,887.4 359.4,886.2 359.9,885.6" fill="none" stroke="#ff0000" stroke-width="2.6" stroke-dasharray="10 14"/>
<path d="M664.4,600.0C664.0,608.5 662.5,636.1 661.8,651.0C661.1,665.9 660.5,679.0 660.0,689.2C659.5,699.4 659.0,704.4 658.5,712.0C658.0,719.6 657.4,728.4 656.9,735.0C656.4,741.6 656.0,747.1 655.5,751.9C655.0,756.7 654.7,759.8 654.1,763.8C653.5,767.8 652.8,771.4 651.7,775.8C650.6,780.2 649.2,786.1 647.6,790.1C646.0,794.1 644.4,795.4 642.1,799.6C639.8,803.8 636.4,811.1 633.8,815.1C631.1,819.1 629.7,820.1 626.2,823.5C622.8,826.9 617.0,832.6 613.1,835.4C609.2,838.2 606.9,838.3 602.8,840.1C598.7,841.9 592.5,844.3 588.5,846.1C584.5,847.9 583.0,849.1 579.0,850.9C575.0,852.7 568.6,855.3 564.6,856.8C560.6,858.3 559.1,858.0 555.1,859.9C551.1,861.8 544.6,866.1 540.8,868.0C536.9,869.9 535.8,870.0 532.0,871.1C528.2,872.2 521.7,873.8 517.8,874.9C513.9,876.0 512.8,876.7 508.8,877.8C504.8,878.9 498.0,880.6 494.0,881.6C490.0,882.6 488.9,883.2 484.9,884.0C480.9,884.8 474.2,885.9 470.1,886.4C466.1,886.9 464.7,886.4 460.6,886.8C456.5,887.1 449.7,888.2 445.6,888.5C441.5,888.8 438.8,889.1 436.0,888.5C433.2,887.9 431.2,886.4 429.0,885.0C426.8,883.6 424.7,881.2 422.9,880.2C421.1,879.2 419.7,879.1 418.1,879.2C416.5,879.3 414.2,880.6 413.4,880.9" fill="none" stroke="#ff0000" stroke-width="2.6" stroke-dasharray="10.1 13.6" stroke-dashoffset="-0.7"/>
<path d="M113.6,865.4C114.2,863.0 116.1,856.7 117.2,851.1C118.3,845.5 119.2,839.2 120.3,832.0C121.4,824.8 122.7,815.6 123.8,808.1C124.9,800.6 125.8,792.6 126.7,786.7C127.6,780.9 128.2,777.7 129.1,773.0C130.0,768.3 130.9,764.3 132.2,758.3C133.5,752.3 135.4,742.8 137.0,736.8C138.6,730.8 140.0,725.6 141.7,722.5C143.4,719.4 145.4,718.0 147.0,718.2C148.6,718.4 149.8,721.6 151.3,723.7C152.8,725.8 154.0,729.1 156.0,730.9C158.0,732.7 161.4,733.0 163.2,734.4C165.0,735.8 165.4,736.0 166.8,739.2C168.2,742.4 169.9,748.6 171.5,753.5C173.1,758.4 174.7,764.0 176.3,768.5C177.9,773.0 179.7,776.5 181.1,780.5C182.5,784.5 183.2,789.1 184.6,792.7C186.0,796.3 187.8,799.4 189.4,802.2C191.0,805.0 192.4,807.7 194.2,809.3C196.0,810.9 198.5,810.5 200.1,811.7C201.7,812.9 202.1,813.9 203.7,816.5C205.3,819.1 207.7,823.4 209.7,827.2C211.7,831.0 213.6,836.1 215.6,839.1C217.6,842.1 219.6,842.7 221.6,845.1C223.6,847.5 225.8,850.1 227.6,853.5C229.4,856.9 230.9,861.4 232.3,865.4C233.7,869.4 234.7,872.9 235.9,877.3C237.1,881.7 238.3,887.5 239.5,891.6C240.7,895.7 241.8,898.9 243.3,901.7C244.8,904.5 246.7,908.5 248.3,908.3C249.9,908.1 251.5,904.2 253.1,900.6C254.7,897.0 256.3,891.9 257.9,886.8C259.5,881.7 261.1,876.9 262.7,870.1C264.3,863.4 265.8,854.2 267.4,846.3C269.0,838.4 270.8,828.9 272.2,822.5C273.6,816.1 274.4,812.1 275.8,808.1C277.2,804.1 279.2,800.9 280.5,798.6C281.8,796.4 282.6,794.2 283.6,794.6C284.6,795.0 285.6,797.1 286.5,801.0C287.4,804.9 288.1,811.7 288.9,817.7C289.7,823.7 290.3,830.4 291.3,836.8C292.3,843.1 293.4,850.6 294.8,855.8C296.2,861.0 297.8,864.2 299.6,867.8C301.4,871.4 303.6,874.7 305.6,877.3C307.6,879.9 309.7,882.3 311.5,883.3C313.3,884.3 314.7,883.8 316.3,883.3C317.9,882.8 319.7,879.0 321.1,880.4C322.5,881.8 323.2,887.5 324.6,891.6C326.0,895.7 327.8,901.1 329.4,904.7C331.0,908.3 332.6,911.4 334.2,913.1C335.8,914.8 337.4,915.1 339.0,914.7C340.6,914.3 342.1,912.8 343.7,910.7C345.3,908.6 347.1,904.5 348.5,902.3C349.9,900.1 350.7,899.2 352.1,897.6C353.5,896.0 355.5,894.4 356.8,892.8C358.1,891.2 358.7,887.4 359.9,888.0C361.1,888.6 363.3,895.0 364.0,896.4" fill="none" stroke="#008000" stroke-width="2.6" stroke-linejoin="round"/>
<path d="M392.4,892.8C392.8,892.0 393.3,889.2 394.8,888.0C396.3,886.8 398.8,886.3 401.5,885.6C404.2,884.9 408.0,884.4 411.0,884.0C414.0,883.6 416.5,882.9 419.3,883.3C422.1,883.6 424.9,885.4 427.7,886.1C430.5,886.8 433.2,887.4 436.0,887.3C438.8,887.2 441.4,886.5 444.4,885.6C447.4,884.7 450.7,883.5 453.9,882.1C457.1,880.7 460.3,879.1 463.5,877.3C466.7,875.5 470.2,873.3 473.0,871.3C475.8,869.3 477.7,868.2 480.1,865.4C482.5,862.6 484.5,858.6 487.3,854.6C490.1,850.6 494.0,845.3 496.8,841.5C499.6,837.7 501.8,835.6 504.0,832.0C506.2,828.4 507.9,824.5 509.9,820.1C511.9,815.7 514.1,811.1 515.9,805.8C517.7,800.5 519.2,794.4 520.7,788.5C522.2,782.6 523.1,778.8 524.7,770.5C526.4,762.2 528.4,751.2 530.6,738.5C532.9,725.8 535.9,707.2 538.2,694.3C540.5,681.4 542.7,669.9 544.6,661.2C546.5,652.5 548.3,646.1 549.7,642.0C551.1,637.9 551.7,636.4 552.8,636.4C553.9,636.4 554.7,638.3 556.1,642.0C557.5,645.7 559.3,650.7 561.2,658.6C563.1,666.5 565.4,677.7 567.5,689.2C569.6,700.7 572.0,715.8 573.9,727.4C575.8,739.0 577.4,749.4 579.0,759.0C580.6,768.6 582.1,776.9 583.7,785.3C585.3,793.6 586.8,801.6 588.5,809.1C590.2,816.6 592.8,826.6 593.7,830.1" fill="none" stroke="#0000ff" stroke-width="2.8" stroke-linejoin="round"/>
<path d="M392.4,892.8C392.9,892.2 392.8,890.1 395.5,889.2C398.2,888.3 404.0,888.1 408.6,887.5C413.2,886.9 418.1,886.5 422.9,885.6C427.7,884.7 432.4,883.4 437.2,882.1C442.0,880.8 447.1,879.5 451.5,878.0C455.9,876.5 459.5,874.7 463.5,873.0C467.5,871.3 472.2,869.7 475.4,867.8C478.6,865.9 480.1,864.0 482.5,861.8C484.9,859.6 487.3,857.4 489.7,854.6C492.1,851.8 494.4,848.7 496.8,845.1C499.2,841.5 501.6,837.8 504.0,833.2C506.4,828.6 508.7,823.7 511.1,817.7C513.5,811.7 516.0,805.1 518.3,797.4C520.6,789.6 522.7,781.0 524.7,771.2C526.8,761.4 528.4,751.3 530.6,738.5C532.9,725.7 535.9,707.2 538.2,694.3C540.5,681.4 542.7,669.9 544.6,661.2C546.5,652.5 548.3,646.1 549.7,642.0C551.1,637.9 551.7,636.4 552.8,636.4C553.9,636.4 554.7,638.3 556.1,642.0C557.5,645.7 559.3,650.7 561.2,658.6C563.1,666.5 565.4,677.7 567.5,689.2C569.6,700.7 572.0,715.9 573.9,727.4C575.8,738.9 577.4,748.7 579.0,758.0C580.6,767.3 582.1,775.7 583.7,783.0C585.3,790.3 586.9,796.4 588.5,802.0C590.1,807.6 592.5,814.3 593.3,816.8" fill="none" stroke="#000" stroke-width="1.7" stroke-linejoin="round"/>
<line x1="226.2" y1="859.4" x2="226.2" y2="957.2" stroke="#00008b" stroke-width="1.4"/>
<line x1="226.2" y1="941.9" x2="112" y2="941.9" stroke="#00008b" stroke-width="1.4"/>
<polygon points="102.2,941.9 113.6,936.5 113.6,947.3" fill="#00008b"/>
<line x1="294.1" y1="863" x2="294.1" y2="957.2" stroke="#008000" stroke-width="1.4"/>
<line x1="294.1" y1="942.1" x2="650" y2="942.1" stroke="#008000" stroke-width="1.4"/>
<polygon points="658.8,942.1 647.6,936.7 647.6,947.5" fill="#008000"/>
<line x1="340.1" y1="830.8" x2="340.1" y2="957.2" stroke="#ff0000" stroke-width="1.3" stroke-dasharray="6 4.7"/>
<line x1="342" y1="851.5" x2="436" y2="851.5" stroke="#ff0000" stroke-width="1.4"/>
<polygon points="444.9,851.5 433.9,846.1 433.9,856.9" fill="#ff0000"/>
<line x1="102.4" y1="957.2" x2="102.4" y2="953.3" stroke="#000" stroke-width="1.25"/>
<line x1="102.4" y1="547.4" x2="102.4" y2="551.3" stroke="#000" stroke-width="1.25"/>
<line x1="117.7" y1="957.2" x2="117.7" y2="953.3" stroke="#000" stroke-width="1.25"/>
<line x1="117.7" y1="547.4" x2="117.7" y2="551.3" stroke="#000" stroke-width="1.25"/>
<line x1="133.0" y1="957.2" x2="133.0" y2="953.3" stroke="#000" stroke-width="1.25"/>
<line x1="133.0" y1="547.4" x2="133.0" y2="551.3" stroke="#000" stroke-width="1.25"/>
<line x1="148.3" y1="957.2" x2="148.3" y2="949.8" stroke="#000" stroke-width="1.25"/>
<line x1="148.3" y1="547.4" x2="148.3" y2="554.8" stroke="#000" stroke-width="1.25"/>
<line x1="163.7" y1="957.2" x2="163.7" y2="953.3" stroke="#000" stroke-width="1.25"/>
<line x1="163.7" y1="547.4" x2="163.7" y2="551.3" stroke="#000" stroke-width="1.25"/>
<line x1="179.0" y1="957.2" x2="179.0" y2="953.3" stroke="#000" stroke-width="1.25"/>
<line x1="179.0" y1="547.4" x2="179.0" y2="551.3" stroke="#000" stroke-width="1.25"/>
<line x1="194.3" y1="957.2" x2="194.3" y2="953.3" stroke="#000" stroke-width="1.25"/>
<line x1="194.3" y1="547.4" x2="194.3" y2="551.3" stroke="#000" stroke-width="1.25"/>
<line x1="209.6" y1="957.2" x2="209.6" y2="953.3" stroke="#000" stroke-width="1.25"/>
<line x1="209.6" y1="547.4" x2="209.6" y2="551.3" stroke="#000" stroke-width="1.25"/>
<line x1="225.0" y1="957.2" x2="225.0" y2="949.8" stroke="#000" stroke-width="1.25"/>
<line x1="225.0" y1="547.4" x2="225.0" y2="554.8" stroke="#000" stroke-width="1.25"/>
<line x1="240.3" y1="957.2" x2="240.3" y2="953.3" stroke="#000" stroke-width="1.25"/>
<line x1="240.3" y1="547.4" x2="240.3" y2="551.3" stroke="#000" stroke-width="1.25"/>
<line x1="255.6" y1="957.2" x2="255.6" y2="953.3" stroke="#000" stroke-width="1.25"/>
<line x1="255.6" y1="547.4" x2="255.6" y2="551.3" stroke="#000" stroke-width="1.25"/>
<line x1="270.9" y1="957.2" x2="270.9" y2="953.3" stroke="#000" stroke-width="1.25"/>
<line x1="270.9" y1="547.4" x2="270.9" y2="551.3" stroke="#000" stroke-width="1.25"/>
<line x1="286.3" y1="957.2" x2="286.3" y2="953.3" stroke="#000" stroke-width="1.25"/>
<line x1="286.3" y1="547.4" x2="286.3" y2="551.3" stroke="#000" stroke-width="1.25"/>
<line x1="301.6" y1="957.2" x2="301.6" y2="949.8" stroke="#000" stroke-width="1.25"/>
<line x1="301.6" y1="547.4" x2="301.6" y2="554.8" stroke="#000" stroke-width="1.25"/>
<line x1="316.9" y1="957.2" x2="316.9" y2="953.3" stroke="#000" stroke-width="1.25"/>
<line x1="316.9" y1="547.4" x2="316.9" y2="551.3" stroke="#000" stroke-width="1.25"/>
<line x1="332.2" y1="957.2" x2="332.2" y2="953.3" stroke="#000" stroke-width="1.25"/>
<line x1="332.2" y1="547.4" x2="332.2" y2="551.3" stroke="#000" stroke-width="1.25"/>
<line x1="347.6" y1="957.2" x2="347.6" y2="953.3" stroke="#000" stroke-width="1.25"/>
<line x1="347.6" y1="547.4" x2="347.6" y2="551.3" stroke="#000" stroke-width="1.25"/>
<line x1="362.9" y1="957.2" x2="362.9" y2="953.3" stroke="#000" stroke-width="1.25"/>
<line x1="362.9" y1="547.4" x2="362.9" y2="551.3" stroke="#000" stroke-width="1.25"/>
<line x1="378.2" y1="957.2" x2="378.2" y2="949.8" stroke="#000" stroke-width="1.25"/>
<line x1="378.2" y1="547.4" x2="378.2" y2="554.8" stroke="#000" stroke-width="1.25"/>
<line x1="393.5" y1="957.2" x2="393.5" y2="953.3" stroke="#000" stroke-width="1.25"/>
<line x1="393.5" y1="547.4" x2="393.5" y2="551.3" stroke="#000" stroke-width="1.25"/>
<line x1="408.8" y1="957.2" x2="408.8" y2="953.3" stroke="#000" stroke-width="1.25"/>
<line x1="408.8" y1="547.4" x2="408.8" y2="551.3" stroke="#000" stroke-width="1.25"/>
<line x1="424.2" y1="957.2" x2="424.2" y2="953.3" stroke="#000" stroke-width="1.25"/>
<line x1="424.2" y1="547.4" x2="424.2" y2="551.3" stroke="#000" stroke-width="1.25"/>
<line x1="439.5" y1="957.2" x2="439.5" y2="953.3" stroke="#000" stroke-width="1.25"/>
<line x1="439.5" y1="547.4" x2="439.5" y2="551.3" stroke="#000" stroke-width="1.25"/>
<line x1="454.8" y1="957.2" x2="454.8" y2="949.8" stroke="#000" stroke-width="1.25"/>
<line x1="454.8" y1="547.4" x2="454.8" y2="554.8" stroke="#000" stroke-width="1.25"/>
<line x1="470.1" y1="957.2" x2="470.1" y2="953.3" stroke="#000" stroke-width="1.25"/>
<line x1="470.1" y1="547.4" x2="470.1" y2="551.3" stroke="#000" stroke-width="1.25"/>
<line x1="485.5" y1="957.2" x2="485.5" y2="953.3" stroke="#000" stroke-width="1.25"/>
<line x1="485.5" y1="547.4" x2="485.5" y2="551.3" stroke="#000" stroke-width="1.25"/>
<line x1="500.8" y1="957.2" x2="500.8" y2="953.3" stroke="#000" stroke-width="1.25"/>
<line x1="500.8" y1="547.4" x2="500.8" y2="551.3" stroke="#000" stroke-width="1.25"/>
<line x1="516.1" y1="957.2" x2="516.1" y2="953.3" stroke="#000" stroke-width="1.25"/>
<line x1="516.1" y1="547.4" x2="516.1" y2="551.3" stroke="#000" stroke-width="1.25"/>
<line x1="531.4" y1="957.2" x2="531.4" y2="949.8" stroke="#000" stroke-width="1.25"/>
<line x1="531.4" y1="547.4" x2="531.4" y2="554.8" stroke="#000" stroke-width="1.25"/>
<line x1="546.8" y1="957.2" x2="546.8" y2="953.3" stroke="#000" stroke-width="1.25"/>
<line x1="546.8" y1="547.4" x2="546.8" y2="551.3" stroke="#000" stroke-width="1.25"/>
<line x1="562.1" y1="957.2" x2="562.1" y2="953.3" stroke="#000" stroke-width="1.25"/>
<line x1="562.1" y1="547.4" x2="562.1" y2="551.3" stroke="#000" stroke-width="1.25"/>
<line x1="577.4" y1="957.2" x2="577.4" y2="953.3" stroke="#000" stroke-width="1.25"/>
<line x1="577.4" y1="547.4" x2="577.4" y2="551.3" stroke="#000" stroke-width="1.25"/>
<line x1="592.7" y1="957.2" x2="592.7" y2="953.3" stroke="#000" stroke-width="1.25"/>
<line x1="592.7" y1="547.4" x2="592.7" y2="551.3" stroke="#000" stroke-width="1.25"/>
<line x1="608.1" y1="957.2" x2="608.1" y2="949.8" stroke="#000" stroke-width="1.25"/>
<line x1="608.1" y1="547.4" x2="608.1" y2="554.8" stroke="#000" stroke-width="1.25"/>
<line x1="623.4" y1="957.2" x2="623.4" y2="953.3" stroke="#000" stroke-width="1.25"/>
<line x1="623.4" y1="547.4" x2="623.4" y2="551.3" stroke="#000" stroke-width="1.25"/>
<line x1="638.7" y1="957.2" x2="638.7" y2="953.3" stroke="#000" stroke-width="1.25"/>
<line x1="638.7" y1="547.4" x2="638.7" y2="551.3" stroke="#000" stroke-width="1.25"/>
<line x1="654.0" y1="957.2" x2="654.0" y2="953.3" stroke="#000" stroke-width="1.25"/>
<line x1="654.0" y1="547.4" x2="654.0" y2="551.3" stroke="#000" stroke-width="1.25"/>
<line x1="87.2" y1="941.8" x2="91.0" y2="941.8" stroke="#000" stroke-width="1.25"/>
<line x1="87.2" y1="926.0" x2="94.4" y2="926.0" stroke="#000" stroke-width="1.25"/>
<line x1="87.2" y1="910.2" x2="91.0" y2="910.2" stroke="#000" stroke-width="1.25"/>
<line x1="87.2" y1="894.5" x2="91.0" y2="894.5" stroke="#000" stroke-width="1.25"/>
<line x1="87.2" y1="878.7" x2="91.0" y2="878.7" stroke="#000" stroke-width="1.25"/>
<line x1="87.2" y1="863.0" x2="94.4" y2="863.0" stroke="#000" stroke-width="1.25"/>
<line x1="87.2" y1="847.2" x2="91.0" y2="847.2" stroke="#000" stroke-width="1.25"/>
<line x1="87.2" y1="831.4" x2="91.0" y2="831.4" stroke="#000" stroke-width="1.25"/>
<line x1="87.2" y1="815.7" x2="91.0" y2="815.7" stroke="#000" stroke-width="1.25"/>
<line x1="87.2" y1="799.9" x2="94.4" y2="799.9" stroke="#000" stroke-width="1.25"/>
<line x1="87.2" y1="784.2" x2="91.0" y2="784.2" stroke="#000" stroke-width="1.25"/>
<line x1="87.2" y1="768.4" x2="91.0" y2="768.4" stroke="#000" stroke-width="1.25"/>
<line x1="87.2" y1="752.6" x2="91.0" y2="752.6" stroke="#000" stroke-width="1.25"/>
<line x1="87.2" y1="736.9" x2="94.4" y2="736.9" stroke="#000" stroke-width="1.25"/>
<line x1="87.2" y1="721.1" x2="91.0" y2="721.1" stroke="#000" stroke-width="1.25"/>
<line x1="87.2" y1="705.4" x2="91.0" y2="705.4" stroke="#000" stroke-width="1.25"/>
<line x1="87.2" y1="689.6" x2="91.0" y2="689.6" stroke="#000" stroke-width="1.25"/>
<line x1="87.2" y1="673.8" x2="94.4" y2="673.8" stroke="#000" stroke-width="1.25"/>
<line x1="87.2" y1="658.1" x2="91.0" y2="658.1" stroke="#000" stroke-width="1.25"/>
<line x1="87.2" y1="642.3" x2="91.0" y2="642.3" stroke="#000" stroke-width="1.25"/>
<line x1="87.2" y1="626.6" x2="91.0" y2="626.6" stroke="#000" stroke-width="1.25"/>
<line x1="87.2" y1="610.8" x2="94.4" y2="610.8" stroke="#000" stroke-width="1.25"/>
<line x1="87.2" y1="595.0" x2="91.0" y2="595.0" stroke="#000" stroke-width="1.25"/>
<line x1="87.2" y1="579.3" x2="91.0" y2="579.3" stroke="#000" stroke-width="1.25"/>
<line x1="87.2" y1="563.5" x2="91.0" y2="563.5" stroke="#000" stroke-width="1.25"/>
<rect x="87.2" y="547.4" width="581.9" height="409.8" fill="none" stroke="#000" stroke-width="1.4"/>
<rect x="184.5" y="560.4" width="177.4" height="121.3" fill="#fff" stroke="#b0b0b0" stroke-width="1"/>
<line x1="197.4" y1="580.4" x2="248.6" y2="580.4" stroke="#ff0000" stroke-width="2.6" stroke-dasharray="10.5 13.5"/>
<line x1="197.4" y1="609" x2="248.6" y2="609" stroke="#008000" stroke-width="2.6"/>
<line x1="197.4" y1="637.3" x2="248.6" y2="637.3" stroke="#0000ff" stroke-width="2.6"/>
<line x1="197.4" y1="665.6" x2="248.6" y2="665.6" stroke="#000" stroke-width="1.5"/>
<text x="255.2" y="588.7" font-size="23.2" fill="#000" text-anchor="start" >Au(111)</text>
<text x="255.2" y="617.1" font-size="23.2" fill="#000" text-anchor="start" >3T, 1</text>
<text x="255.2" y="645.5" font-size="23.2" fill="#000" text-anchor="start" >3T, 2</text>
<text x="255.2" y="673.9" font-size="23.2" fill="#000" text-anchor="start" >Lorentz fit</text>
<text transform="translate(78.6,554.9) scale(0.955,1)" font-size="23.6" fill="#000" text-anchor="end" >120</text>
<text transform="translate(78.6,617.9) scale(0.955,1)" font-size="23.6" fill="#000" text-anchor="end" >100</text>
<text transform="translate(78.6,680.9) scale(0.955,1)" font-size="23.6" fill="#000" text-anchor="end" >80</text>
<text transform="translate(78.6,744.0) scale(0.955,1)" font-size="23.6" fill="#000" text-anchor="end" >60</text>
<text transform="translate(78.6,807.0) scale(0.955,1)" font-size="23.6" fill="#000" text-anchor="end" >40</text>
<text transform="translate(78.6,870.1) scale(0.955,1)" font-size="23.6" fill="#000" text-anchor="end" >20</text>
<text transform="translate(78.6,933.1) scale(0.955,1)" font-size="23.6" fill="#000" text-anchor="end" >0</text>
<text x="146.7" y="983.8" font-size="23.6" fill="#000" text-anchor="middle" ><tspan font-size="19.5" dy="-1.5">&#8722;</tspan><tspan dy="1.5">3</tspan></text>
<text x="223.4" y="983.8" font-size="23.6" fill="#000" text-anchor="middle" ><tspan font-size="19.5" dy="-1.5">&#8722;</tspan><tspan dy="1.5">2</tspan></text>
<text x="300.0" y="983.8" font-size="23.6" fill="#000" text-anchor="middle" ><tspan font-size="19.5" dy="-1.5">&#8722;</tspan><tspan dy="1.5">1</tspan></text>
<text x="378.2" y="983.8" font-size="23.6" fill="#000" text-anchor="middle" >0</text>
<text x="454.8" y="983.8" font-size="23.6" fill="#000" text-anchor="middle" >1</text>
<text x="531.4" y="983.8" font-size="23.6" fill="#000" text-anchor="middle" >2</text>
<text x="608.1" y="983.8" font-size="23.6" fill="#000" text-anchor="middle" >3</text>
<text x="379.2" y="1016.6" font-size="29.5" fill="#000" text-anchor="middle" >bias (eV)</text>
<text transform="translate(28.6,851.1) rotate(-90)" font-size="29.6" word-spacing="1.6">dI/dV<tspan font-size="17.5" dy="11.6">t</tspan><tspan dy="-11.6"> </tspan><tspan font-size="33">&#215;</tspan> V<tspan font-size="17.5" dy="11.6">t</tspan><tspan dy="-11.6" dx="-1.9"> (pA)</tspan></text>
<text x="3.6" y="565.3" font-size="39.2" fill="#000" text-anchor="start" >b)</text>
<text x="245.2" y="775.4" font-size="23.2" fill="#008000" text-anchor="start" >HOMO</text>
<text x="517.6" y="609.0" font-size="23.2" fill="#0000ff" text-anchor="start" >LUMO</text>
<text x="351.2" y="833.9" font-size="21.3" fill="#ff0000" text-anchor="start" >surface state</text>
<text x="568.8" y="926.1" font-size="23.4" fill="#008000"><tspan font-style="italic">L</tspan> gap</text>
<text x="105.6" y="923.8" font-size="22.9" fill="#00008b"><tspan font-style="italic">d</tspan> bands</text>
<text x="308.7" y="834.9" font-size="19" fill="#000" text-anchor="middle" >1</text>
<text x="583.6" y="726.7" font-size="19" fill="#000" text-anchor="middle" >2</text>
<g transform="translate(376.0,558.8)">
<g clip-path="url(#insclip)">
<rect x="0" y="0" width="137" height="136.6" fill="url(#bgdiag)"/>
<rect x="0" y="0" width="137" height="136.6" fill="url(#bgtr)"/>
<rect x="0" y="0" width="137" height="136.6" fill="url(#bgbl)"/>
<rect x="0" y="0" width="137" height="136.6" fill="url(#bgleft)"/>
<g filter="url(#blur3)">
<line x1="50.4" y1="67.4" x2="75.6" y2="89.6" stroke="#3820ff" stroke-width="48" stroke-linecap="round" opacity="0.8"/>
</g>
<g filter="url(#blur15)">
<line x1="50.4" y1="67.4" x2="75.6" y2="89.6" stroke="#8018f0" stroke-width="40" stroke-linecap="round"/>
<line x1="50.4" y1="67.4" x2="75.6" y2="89.6" stroke="#e010d0" stroke-width="37" stroke-linecap="round"/>
<line x1="50.4" y1="67.4" x2="75.6" y2="89.6" stroke="#ff1068" stroke-width="33.5" stroke-linecap="round"/>
<line x1="50.4" y1="67.4" x2="75.6" y2="89.6" stroke="#ff2000" stroke-width="30" stroke-linecap="round"/>
<line x1="50.4" y1="67.4" x2="75.6" y2="89.6" stroke="#ff7000" stroke-width="26.5" stroke-linecap="round"/>
<line x1="50.4" y1="67.4" x2="75.6" y2="89.6" stroke="#ffb400" stroke-width="23" stroke-linecap="round"/>
<line x1="50.4" y1="67.4" x2="75.6" y2="89.6" stroke="#ffe820" stroke-width="19.5" stroke-linecap="round"/>
<line x1="50.4" y1="67.4" x2="75.6" y2="89.6" stroke="#fff850" stroke-width="14.5" stroke-linecap="round"/>
<line x1="50.4" y1="67.4" x2="75.6" y2="89.6" stroke="#ffffa0" stroke-width="9.5" stroke-linecap="round"/>
<line x1="50.4" y1="67.4" x2="75.6" y2="89.6" stroke="#ffffe0" stroke-width="5" stroke-linecap="round"/>
</g>
</g>
<text x="8.8" y="23.2" font-size="22.6" fill="#fff" text-anchor="start" >2nm&#160; x 2nm</text>
<text x="82.6" y="61.9" font-size="22" fill="#fff" text-anchor="middle" >2</text>
<text x="96.5" y="124.0" font-size="22" fill="#fff" text-anchor="middle" >1</text>
<text x="68.0" y="76.0" font-size="18" fill="#000" text-anchor="middle" >x</text>
<text x="81.5" y="103.5" font-size="18" fill="#000" text-anchor="middle" >x</text>
</g>
</svg>
</body></html>
